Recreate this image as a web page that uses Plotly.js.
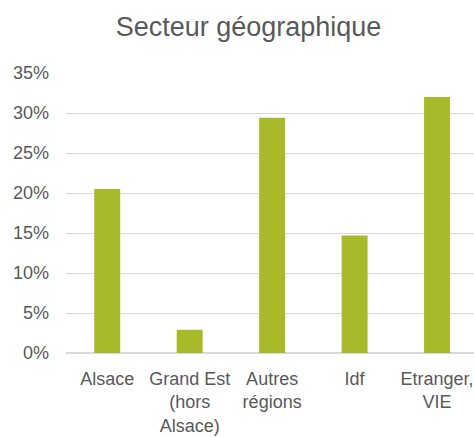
<!DOCTYPE html>
<html>
<head>
<meta charset="utf-8">
<script src="https://cdn.plot.ly/plotly-3.0.1.min.js"></script>
<style>html,body{margin:0;padding:0;background:#fff;}#chart{width:474px;height:437px;}</style>
</head>
<body>
<div id="chart"></div>
<script>
const categories = ["Alsace", "Grand Est<br>(hors<br>Alsace)", "Autres<br>régions", "Idf", "Etranger,<br>VIE"];
const values = [20.5, 2.9, 29.4, 14.7, 32.0];
const yTickVals = [0, 5, 10, 15, 20, 25, 30, 35];
const yTickText = ["0%", "5%", "10%", "15%", "20%", "25%", "30%", "35%"];

const FONT = '"Liberation Sans Narrow", "Arial Narrow", "Liberation Sans", Arial, sans-serif';
const GREY = '#595959';

Plotly.newPlot('chart', [{
  type: 'bar',
  x: categories,
  y: values,
  width: 0.315,
  marker: {color: '#a8b92a'},
  hoverinfo: 'none'
}], {
  width: 474,
  height: 437,
  margin: {l: 66, r: 0, t: 73, b: 84, pad: 0},
  paper_bgcolor: '#fff',
  plot_bgcolor: '#fff',
  showlegend: false,
  font: {family: FONT, color: GREY, size: 18},
  title: {
    text: 'Secteur géographique',
    font: {family: FONT, size: 27, color: GREY},
    x: 248.5 / 474, xanchor: 'center', xref: 'container',
    y: 1 - 27 / 437, yanchor: 'middle', yref: 'container'
  },
  xaxis: {
    type: 'category',
    range: [-0.5, 4.448],
    showgrid: false,
    showline: false,
    zeroline: false,
    ticks: '',
    tickfont: {family: FONT, size: 18, color: GREY},
    ticklabelstandoff: 13,
    fixedrange: true
  },
  yaxis: {
    range: [0, 35],
    tickvals: yTickVals,
    ticktext: yTickText,
    showgrid: true,
    gridcolor: '#d9d9d9',
    gridwidth: 1,
    zeroline: true,
    zerolinecolor: '#d9d9d9',
    zerolinewidth: 2,
    showline: false,
    ticks: '',
    tickfont: {family: FONT, size: 18, color: GREY},
    ticklabelstandoff: 16,
    fixedrange: true
  }
}, {displayModeBar: false, staticPlot: true});
</script>
</body>
</html>
